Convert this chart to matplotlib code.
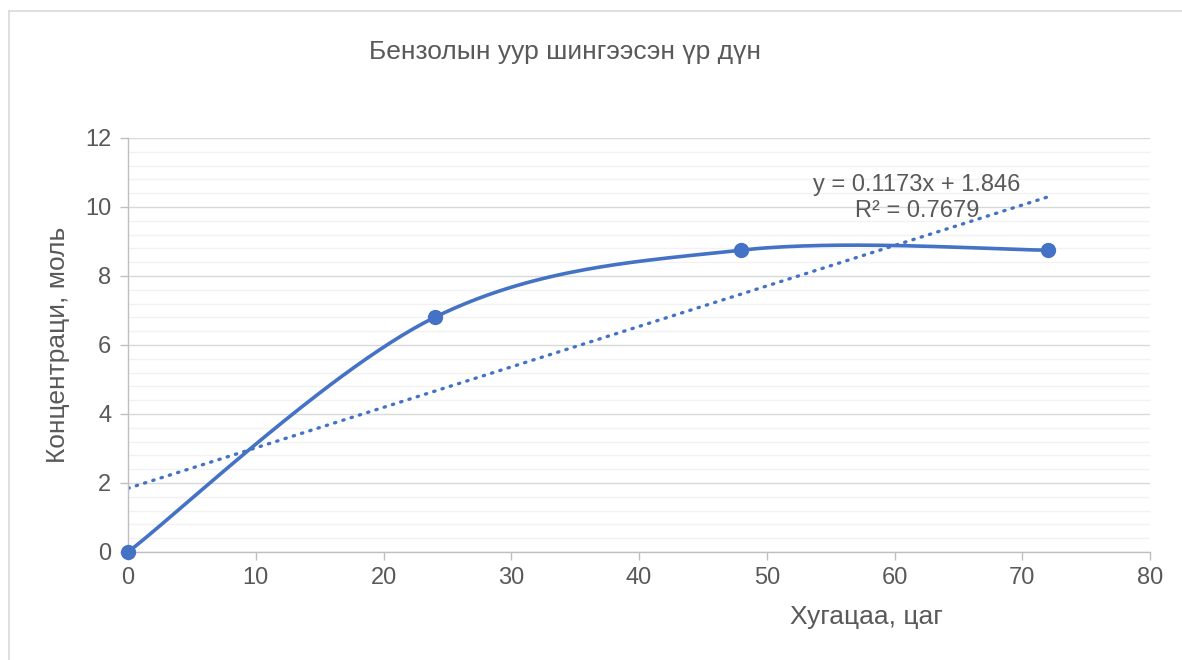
import numpy as np
import matplotlib
matplotlib.use("Agg")
import matplotlib.pyplot as plt
from matplotlib.lines import Line2D

# Data
time_h = [0, 24, 48, 72]
conc = [0, 6.8, 8.75, 8.75]
title = "Бензолын уур шингээсэн үр дүн"
xlabel = "Хугацаа, цаг"
ylabel = "Концентраци, моль"
eq_text = "y = 0.1173x + 1.846\nR² = 0.7679"
trend_slope = 0.1173
trend_intercept = 1.846

plt.rcParams['font.family'] = ['Liberation Sans', 'DejaVu Sans']
TXT = '#595959'
BLUE = '#4472C4'

fig = plt.figure(figsize=(11.82, 6.6), dpi=100)
ax = fig.add_axes([128/1182, 1-552/660, (1150-128)/1182, (552-138)/660])

def excel_smooth(xs, ys, n=60):
    P = np.column_stack([xs, ys]).astype(float)
    pts = []
    m = len(P)
    for i in range(m - 1):
        p0 = P[i-1] if i > 0 else P[i]
        p1 = P[i]
        p2 = P[i+1]
        p3 = P[i+2] if i+2 < m else P[i+1]
        c1 = p1 + (p2 - p0) / 6
        c2 = p2 - (p3 - p1) / 6
        t = np.linspace(0, 1, n)[:, None]
        seg = (1-t)**3*p1 + 3*(1-t)**2*t*c1 + 3*(1-t)*t**2*c2 + t**3*p2
        pts.append(seg if i == 0 else seg[1:])
    pts = np.vstack(pts)
    return pts[:, 0], pts[:, 1]

sx, sy = excel_smooth(time_h, conc)
ax.plot(sx, sy, color=BLUE, lw=2.6, solid_capstyle='round', zorder=3, clip_on=False)
ax.plot(time_h, conc, 'o', color=BLUE, ms=10, zorder=4, clip_on=False)

tx = np.array([min(time_h), max(time_h)])
ax.plot(tx, trend_slope*tx + trend_intercept, color=BLUE, lw=2.4,
        linestyle=(0, (0.4, 2.2)), dash_capstyle='round', zorder=2)

ax.set_xlim(0, 80)
ax.set_ylim(0, 12)
ax.set_xticks(range(0, 81, 10))
ax.set_yticks(range(0, 13, 2))
ax.set_yticks(np.arange(0, 12.01, 0.4), minor=True)
ax.grid(which='major', axis='y', color='#D9D9D9', lw=1.0)
ax.grid(which='minor', axis='y', color='#F2F2F2', lw=1.0)
ax.set_axisbelow(True)
for s in ['top', 'right']:
    ax.spines[s].set_visible(False)
for s in ['left', 'bottom']:
    ax.spines[s].set_color('#BFBFBF')
    ax.spines[s].set_linewidth(1.0)
ax.tick_params(axis='both', which='major', colors='#BFBFBF', labelcolor=TXT,
               labelsize=17, length=6, width=1.0, direction='out')
ax.tick_params(axis='y', which='minor', length=0)
ax.tick_params(axis='x', pad=5)
ax.tick_params(axis='y', pad=6)

fig.text(917/1182, 1-198/660, eq_text, ha='center', va='center',
         fontsize=17, color=TXT, linespacing=1.2)

fig.text(565/1182, 1-52/660, title, ha='center', va='center', fontsize=19, color=TXT)
fig.text(866/1182, 1-617/660, xlabel, ha='center', va='center', fontsize=19, color=TXT)
fig.text(58/1182, 1-345/660, ylabel, ha='center', va='center', fontsize=19,
         color=TXT, rotation=90)

# chart area border
fig.add_artist(Line2D([9/1182, 9/1182], [0, 1-11/660], transform=fig.transFigure,
                      color='#D9D9D9', lw=1.2))
fig.add_artist(Line2D([9/1182, 1], [1-11/660, 1-11/660], transform=fig.transFigure,
                      color='#D9D9D9', lw=1.2))

fig.savefig('out.png', dpi=100, facecolor='white')
